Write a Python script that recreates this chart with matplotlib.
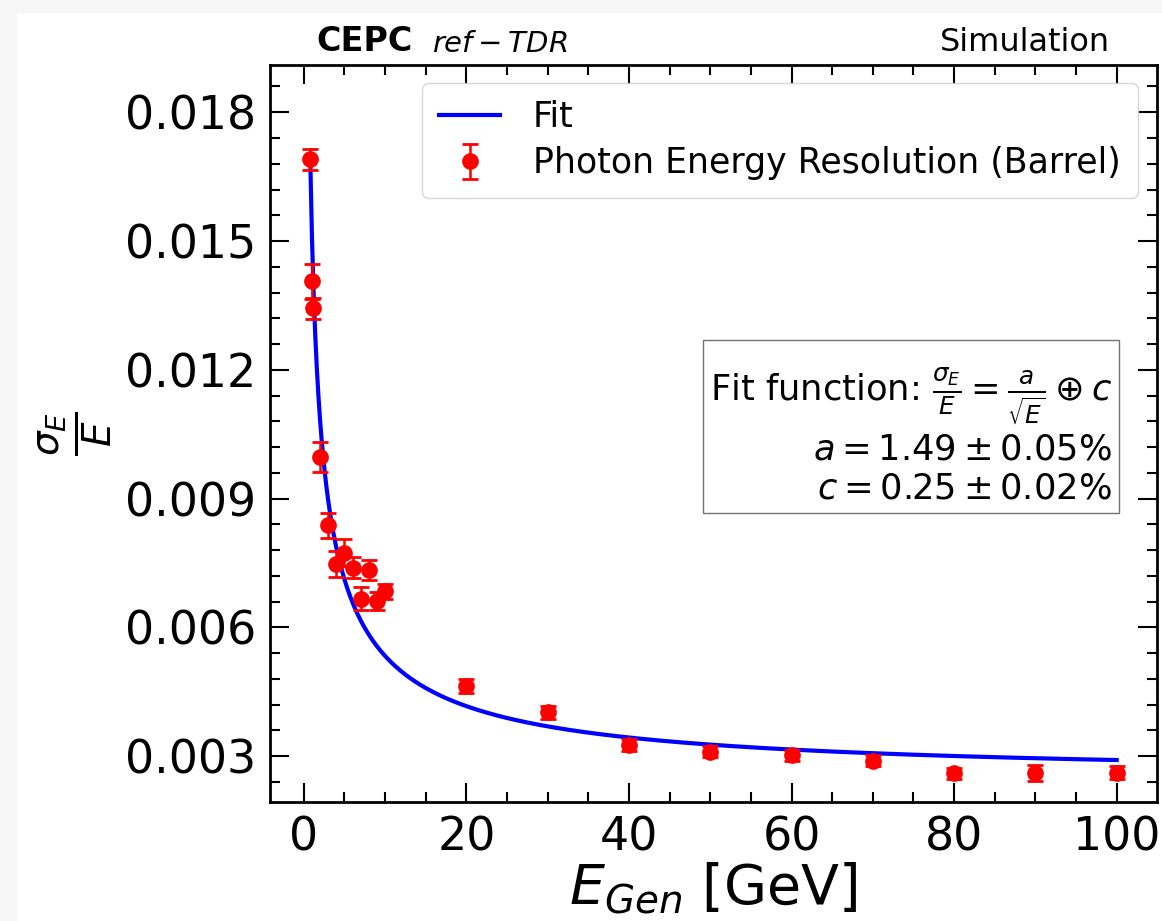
import numpy as np
import matplotlib
matplotlib.use("Agg")
import matplotlib.pyplot as plt
from matplotlib.ticker import MultipleLocator, AutoMinorLocator
from matplotlib.patches import Rectangle

# photon energies [GeV] and measured resolution sigma_E / E
energy = [0.8, 1.0, 1.1, 2, 3, 4, 5, 6, 7, 8, 9, 10,
          20, 30, 40, 50, 60, 70, 80, 90, 100]
resolution = [0.01690, 0.01406, 0.01343, 0.00997, 0.00838, 0.00747, 0.00774,
              0.00739, 0.00667, 0.00733, 0.00661, 0.00684,
              0.00463, 0.00402, 0.00326, 0.00310, 0.00302, 0.00289,
              0.00260, 0.00261, 0.00262]
res_err = [0.00024, 0.00040, 0.00025, 0.00035, 0.00029, 0.00030, 0.00032,
           0.00024, 0.00027, 0.00023, 0.00021, 0.00018,
           0.00016, 0.00015, 0.00013, 0.00013, 0.00013, 0.00013,
           0.00013, 0.00018, 0.00015]

# fit parameters (fractions)
fit_a = 0.0149
fit_c = 0.0025

e_fit = np.linspace(min(energy), max(energy), 500)
res_fit = np.sqrt((fit_a / np.sqrt(e_fit)) ** 2 + fit_c ** 2)

fig = plt.figure(figsize=(11.62, 9.21), dpi=100)
# light grey screenshot margin on top and left
fig.patches.append(Rectangle((0, 1 - 12 / 921), 1, 12 / 921, transform=fig.transFigure,
                             color="#f6f6f6", zorder=-10))
fig.patches.append(Rectangle((0, 0), 16 / 1162, 1, transform=fig.transFigure,
                             color="#f6f6f6", zorder=-10))

ax = fig.add_axes([270 / 1162, 1 - 801.7 / 921, 887 / 1162, 736.7 / 921])

ax.plot(e_fit, res_fit, color="blue", lw=3, label="Fit", zorder=2)
ax.errorbar(energy, resolution, yerr=res_err, fmt="o", color="red", ms=11,
            elinewidth=1.8, capsize=6, capthick=2,
            label="Photon Energy Resolution (Barrel)", zorder=3)

ax.set_xlim(-4.16, 104.96)
ax.set_ylim(0.00194, 0.0191)

ax.xaxis.set_major_locator(MultipleLocator(20))
ax.xaxis.set_minor_locator(AutoMinorLocator(4))
ax.yaxis.set_major_locator(MultipleLocator(0.003))
ax.yaxis.set_minor_locator(AutoMinorLocator(5))
ax.tick_params(which="both", direction="in", top=True, right=True, width=1.5)
ax.tick_params(which="major", length=14, labelsize=33, pad=10)
ax.tick_params(which="minor", length=7)
for sp in ax.spines.values():
    sp.set_linewidth(2)

ax.set_xlabel(r"$E_{Gen}$ [GeV]", fontsize=40, labelpad=0)
ax.set_ylabel(r"$\frac{\sigma_E}{E}$", fontsize=40, labelpad=8)

ax.legend(loc="upper right", fontsize=25, bbox_to_anchor=(0.9786, 0.9756),
          borderaxespad=0, handlelength=1.75, handletextpad=0.95,
          borderpad=0.5, labelspacing=0.35)

ax.text(0.9493, 0.592,
        "Fit function: $\\frac{\\sigma_E}{E} = \\frac{a}{\\sqrt{E}} \\oplus c$\n"
        "$a = 1.49 \\pm 0.05\\%$\n$c = 0.25 \\pm 0.02\\%$",
        transform=ax.transAxes, ha="right", va="top", fontsize=25.4,
        multialignment="right",
        bbox=dict(boxstyle="square,pad=0.2", facecolor="white", edgecolor="0.45"))

ax.text(0.0519, 1.01, "CEPC", transform=ax.transAxes, fontsize=24,
        fontweight="bold", ha="left", va="bottom")
ax.text(0.183, 1.01, r"$ref-TDR$", transform=ax.transAxes, fontsize=21,
        ha="left", va="bottom")
ax.text(0.947, 1.01, "Simulation", transform=ax.transAxes, fontsize=23,
        ha="right", va="bottom")

fig.savefig("out.png", dpi=100)
